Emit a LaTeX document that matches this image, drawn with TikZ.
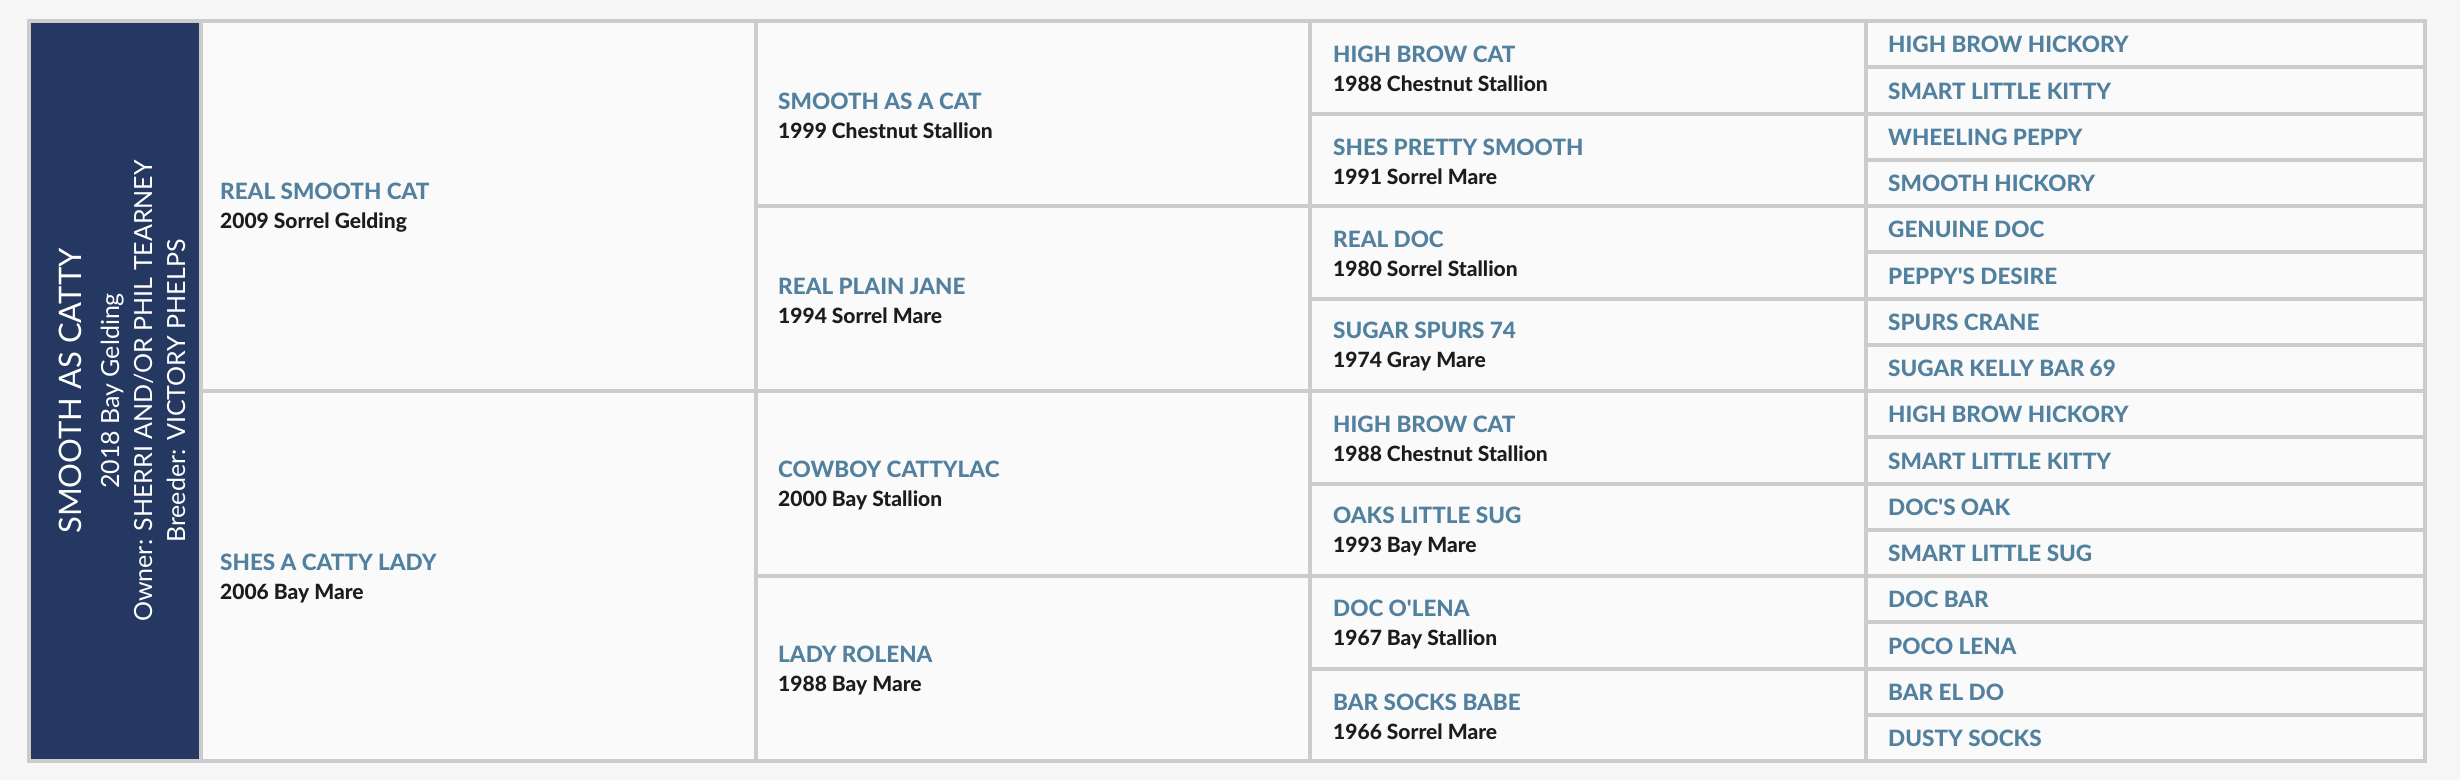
\documentclass[tikz,border=0pt]{standalone}
\usepackage{fontspec}
\setmainfont{Lato}[BoldFont=* Bold]
\newfontfamily\heavyfont{Lato Heavy}
\definecolor{pagebg}{HTML}{F6F6F6}
\definecolor{cellbg}{HTML}{FAFAFA}
\definecolor{navy}{HTML}{253861}
\definecolor{gridc}{HTML}{CCCCCC}
\definecolor{namec}{HTML}{52809F}
\definecolor{detc}{HTML}{1C1C1C}
\tikzset{
  gridline/.style={draw=gridc, line width=4pt},
  nm/.style={anchor=west, inner sep=0pt, align=left, font=\heavyfont\fontsize{22.5}{29}\selectfont},
  nmone/.style={anchor=west, inner sep=0pt, text=namec, font=\heavyfont\fontsize{22.5}{29}\selectfont},
}
\newcommand{\hname}[2]{\textcolor{namec}{#1}\\{\fontsize{21}{29}\selectfont\textcolor{detc}{#2}}}
\begin{document}
\begin{tikzpicture}[x=1pt,y=-1pt]
\fill[pagebg] (0,0) rectangle (2460,780);
\useasboundingbox (0,0) rectangle (2460,780);
\fill[cellbg] (201,21) rectangle (2425,761);
\fill[navy] (29,21) rectangle (201,761);
% grid
\draw[gridline] (29,21) rectangle (2425,761);
\foreach \x in {201,756,1310,1866} \draw[gridline] (\x,21) -- (\x,761);
\draw[gridline] (201,391) -- (756,391);
\foreach \i in {1,2,3} \draw[gridline] (756,{21+\i*185}) -- (1310,{21+\i*185});
\foreach \i in {1,...,7} \draw[gridline] (1310,{21+\i*92.5}) -- (1866,{21+\i*92.5});
\foreach \i in {1,...,15} \draw[gridline] (1866,{21+\i*46.25}) -- (2425,{21+\i*46.25});
% subject
\node[rotate=90, align=center, text=white, inner sep=0pt, font=\fontsize{25}{33}\selectfont] (subj) at (122,391)
  {{\fontsize{31}{33}\selectfont SMOOTH AS CATTY}\\[5pt]
   2018 Bay Gelding\\
   Owner: SHERRI AND/OR PHIL TEARNEY\\
   Breeder: VICTORY PHELPS};
% generation 1
\node[nm] (s) at (220,208) {\hname{REAL SMOOTH CAT}{2009 Sorrel Gelding}};
\node[nm] (d) at (220,578) {\hname{SHES A CATTY LADY}{2006 Bay Mare}};
% generation 2
\node[nm] (ss) at (778,115.5) {\hname{SMOOTH AS A CAT}{1999 Chestnut Stallion}};
\node[nm] (sd) at (778,300.5) {\hname{REAL PLAIN JANE}{1994 Sorrel Mare}};
\node[nm] (ds) at (778,485.5) {\hname{COWBOY CATTYLAC}{2000 Bay Stallion}};
\node[nm] (dd) at (778,670.5) {\hname{LADY ROLENA}{1988 Bay Mare}};
% generation 3
\node[nm] (sss) at (1333,69.25) {\hname{HIGH BROW CAT}{1988 Chestnut Stallion}};
\node[nm] (ssd) at (1333,161.75) {\hname{SHES PRETTY SMOOTH}{1991 Sorrel Mare}};
\node[nm] (sds) at (1333,254.25) {\hname{REAL DOC}{1980 Sorrel Stallion}};
\node[nm] (sdd) at (1333,346.75) {\hname{SUGAR SPURS 74}{1974 Gray Mare}};
\node[nm] (dss) at (1333,439.25) {\hname{HIGH BROW CAT}{1988 Chestnut Stallion}};
\node[nm] (dsd) at (1333,531.75) {\hname{OAKS LITTLE SUG}{1993 Bay Mare}};
\node[nm] (dds) at (1333,624.25) {\hname{DOC O'LENA}{1967 Bay Stallion}};
\node[nm] (ddd) at (1333,716.75) {\hname{BAR SOCKS BABE}{1966 Sorrel Mare}};
% generation 4
\foreach \t [count=\i from 0] in {HIGH BROW HICKORY,SMART LITTLE KITTY,WHEELING PEPPY,SMOOTH HICKORY,GENUINE DOC,PEPPY'S DESIRE,SPURS CRANE,SUGAR KELLY BAR 69,HIGH BROW HICKORY,SMART LITTLE KITTY,DOC'S OAK,SMART LITTLE SUG,DOC BAR,POCO LENA,BAR EL DO,DUSTY SOCKS}
  \node[nmone] (g\i) at (1888,{44.6+\i*46.25}) {\t};
\end{tikzpicture}
\end{document}
